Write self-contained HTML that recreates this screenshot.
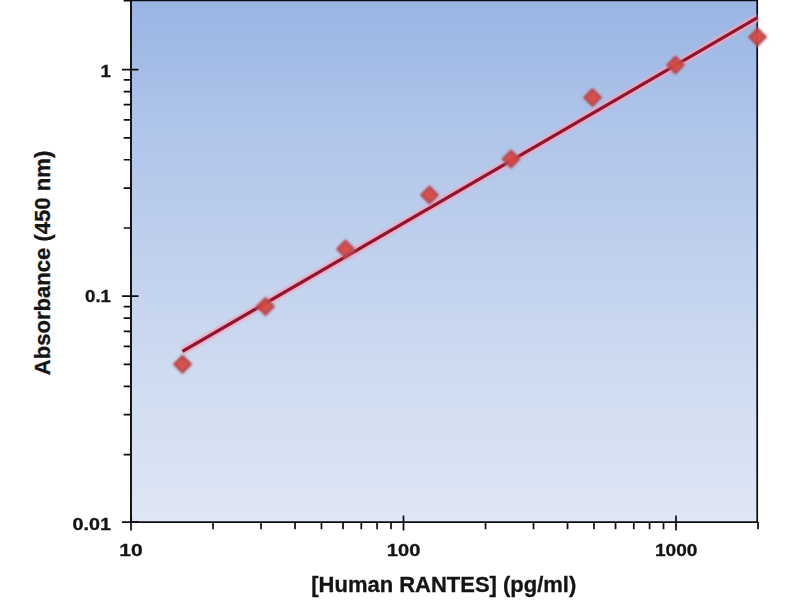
<!DOCTYPE html>
<html><head><meta charset="utf-8"><style>
html,body{margin:0;padding:0;background:#fff;width:800px;height:600px;overflow:hidden}
svg{display:block}
</style></head><body>
<svg width="800" height="600" viewBox="0 0 800 600">
<defs>
<linearGradient id="bg" x1="0" y1="0" x2="0" y2="1">
<stop offset="0" stop-color="#98b5e3"/>
<stop offset="0.25" stop-color="#b0c5ea"/>
<stop offset="0.5" stop-color="#c1d1ee"/>
<stop offset="0.75" stop-color="#d1ddf1"/>
<stop offset="1" stop-color="#dfe6f5"/>
</linearGradient>
<filter id="sh" x="-50%" y="-50%" width="200%" height="200%"><feGaussianBlur stdDeviation="0.85"/></filter>
<filter id="lb" x="-10%" y="-10%" width="120%" height="120%"><feGaussianBlur stdDeviation="0.9"/></filter>
<filter id="lc" x="-10%" y="-10%" width="120%" height="120%"><feGaussianBlur stdDeviation="0.35"/></filter>
<filter id="sh2" x="-50%" y="-50%" width="200%" height="200%"><feGaussianBlur stdDeviation="1.5"/></filter>
</defs>
<rect x="131.0" y="0" width="626.2" height="522.8" fill="url(#bg)"/>
<path d="M131.0 0.5 H757.2 V522.8" fill="none" stroke="#0b0b12" stroke-width="1.7"/>
<path d="M131.0 0 V522.1 H757.2" fill="none" stroke="#0b0b12" stroke-width="1.9"/>
<path d="M122 522.10 H138.5 M123.7 454.59 H131.0 M123.7 414.68 H131.0 M123.7 386.37 H131.0 M123.7 364.41 H131.0 M123.7 346.47 H131.0 M123.7 331.30 H131.0 M123.7 318.16 H131.0 M123.7 306.57 H131.0 M122 296.20 H138.5 M123.7 227.99 H131.0 M123.7 188.08 H131.0 M123.7 159.77 H131.0 M123.7 137.81 H131.0 M123.7 119.87 H131.0 M123.7 104.70 H131.0 M123.7 91.56 H131.0 M123.7 79.97 H131.0 M122 69.60 H138.5 M123.7 0.60 H131.0 M131.00 515.5 V530.5 M213.03 522 V529.3 M261.02 522 V529.3 M295.06 522 V529.3 M321.47 522 V529.3 M343.05 522 V529.3 M361.29 522 V529.3 M377.09 522 V529.3 M391.03 522 V529.3 M403.50 515.5 V530.5 M485.53 522 V529.3 M533.52 522 V529.3 M567.56 522 V529.3 M593.97 522 V529.3 M615.55 522 V529.3 M633.79 522 V529.3 M649.59 522 V529.3 M663.53 522 V529.3 M676.00 515.5 V530.5 M758.03 522 V529.3" fill="none" stroke="#0b0b12" stroke-width="1.7"/>
<path d="M182.5 351.4 L757.5 17.6" stroke="#f4a4bc" stroke-width="7" stroke-opacity="1" fill="none" filter="url(#lb)"/>
<path d="M182.5 351.4 L757.5 17.6" stroke="#8a1830" stroke-width="3.2" fill="none" filter="url(#lc)"/>
<g opacity="0.95">
<path d="M182.5 353.3 L193.4 364.2 L182.5 375.09999999999997 L171.6 364.2 Z" fill="#e8b0b8" filter="url(#sh2)" opacity="0.4"/>
<path d="M182.5 354.5 L192.2 364.2 L182.5 373.9 L172.8 364.2 Z" fill="#a8444e" filter="url(#sh)"/>
<path d="M182.5 357.7 L189.0 364.2 L182.5 370.7 L176.0 364.2 Z" fill="#d94842" filter="url(#sh)"/>
<path d="M265.5 295.6 L276.4 306.5 L265.5 317.4 L254.6 306.5 Z" fill="#e8b0b8" filter="url(#sh2)" opacity="0.4"/>
<path d="M265.5 296.8 L275.2 306.5 L265.5 316.2 L255.8 306.5 Z" fill="#a8444e" filter="url(#sh)"/>
<path d="M265.5 300.0 L272.0 306.5 L265.5 313.0 L259.0 306.5 Z" fill="#d94842" filter="url(#sh)"/>
<path d="M345.5 238.1 L356.4 249 L345.5 259.9 L334.6 249 Z" fill="#e8b0b8" filter="url(#sh2)" opacity="0.4"/>
<path d="M345.5 239.3 L355.2 249 L345.5 258.7 L335.8 249 Z" fill="#a8444e" filter="url(#sh)"/>
<path d="M345.5 242.5 L352.0 249 L345.5 255.5 L339.0 249 Z" fill="#d94842" filter="url(#sh)"/>
<path d="M429.5 184.1 L440.4 195 L429.5 205.9 L418.6 195 Z" fill="#e8b0b8" filter="url(#sh2)" opacity="0.4"/>
<path d="M429.5 185.3 L439.2 195 L429.5 204.7 L419.8 195 Z" fill="#a8444e" filter="url(#sh)"/>
<path d="M429.5 188.5 L436.0 195 L429.5 201.5 L423.0 195 Z" fill="#d94842" filter="url(#sh)"/>
<path d="M511 148.1 L521.9 159 L511 169.9 L500.1 159 Z" fill="#e8b0b8" filter="url(#sh2)" opacity="0.4"/>
<path d="M511 149.3 L520.7 159 L511 168.7 L501.3 159 Z" fill="#a8444e" filter="url(#sh)"/>
<path d="M511 152.5 L517.5 159 L511 165.5 L504.5 159 Z" fill="#d94842" filter="url(#sh)"/>
<path d="M592.5 86.6 L603.4 97.5 L592.5 108.4 L581.6 97.5 Z" fill="#e8b0b8" filter="url(#sh2)" opacity="0.4"/>
<path d="M592.5 87.8 L602.2 97.5 L592.5 107.2 L582.8 97.5 Z" fill="#a8444e" filter="url(#sh)"/>
<path d="M592.5 91.0 L599.0 97.5 L592.5 104.0 L586.0 97.5 Z" fill="#d94842" filter="url(#sh)"/>
<path d="M675.5 54.1 L686.4 65 L675.5 75.9 L664.6 65 Z" fill="#e8b0b8" filter="url(#sh2)" opacity="0.4"/>
<path d="M675.5 55.3 L685.2 65 L675.5 74.7 L665.8 65 Z" fill="#a8444e" filter="url(#sh)"/>
<path d="M675.5 58.5 L682.0 65 L675.5 71.5 L669.0 65 Z" fill="#d94842" filter="url(#sh)"/>
<path d="M757.5 26.1 L768.4 37 L757.5 47.9 L746.6 37 Z" fill="#e8b0b8" filter="url(#sh2)" opacity="0.4"/>
<path d="M757.5 27.3 L767.2 37 L757.5 46.7 L747.8 37 Z" fill="#a8444e" filter="url(#sh)"/>
<path d="M757.5 30.5 L764.0 37 L757.5 43.5 L751.0 37 Z" fill="#d94842" filter="url(#sh)"/>
</g>
<g font-family="Liberation Sans, sans-serif" font-weight="bold" stroke="#141414" stroke-width="0.3" font-size="17" fill="#141414" text-anchor="end">
<text x="111" y="76.5" textLength="10.5" lengthAdjust="spacingAndGlyphs">1</text>
<text x="111" y="302" textLength="26" lengthAdjust="spacingAndGlyphs">0.1</text>
<text x="111" y="529.5" textLength="38.5" lengthAdjust="spacingAndGlyphs">0.01</text>
</g>
<g font-family="Liberation Sans, sans-serif" font-weight="bold" stroke="#141414" stroke-width="0.3" font-size="17" fill="#141414" text-anchor="middle">
<text x="131" y="556" textLength="23.5" lengthAdjust="spacingAndGlyphs">10</text>
<text x="403.6" y="556" textLength="33.5" lengthAdjust="spacingAndGlyphs">100</text>
<text x="676.2" y="556" textLength="42.5" lengthAdjust="spacingAndGlyphs">1000</text>
</g>
<text font-family="Liberation Sans, sans-serif" font-weight="bold" stroke="#141414" stroke-width="0.3" font-size="22" fill="#141414" x="443.8" y="592" text-anchor="middle" textLength="265" lengthAdjust="spacingAndGlyphs">[Human RANTES] (pg/ml)</text>
<text font-family="Liberation Sans, sans-serif" font-weight="bold" stroke="#141414" stroke-width="0.3" font-size="22" fill="#141414" transform="translate(50 263) rotate(-90)" text-anchor="middle" textLength="224.5" lengthAdjust="spacingAndGlyphs">Absorbance (450 nm)</text>
</svg></body></html>
